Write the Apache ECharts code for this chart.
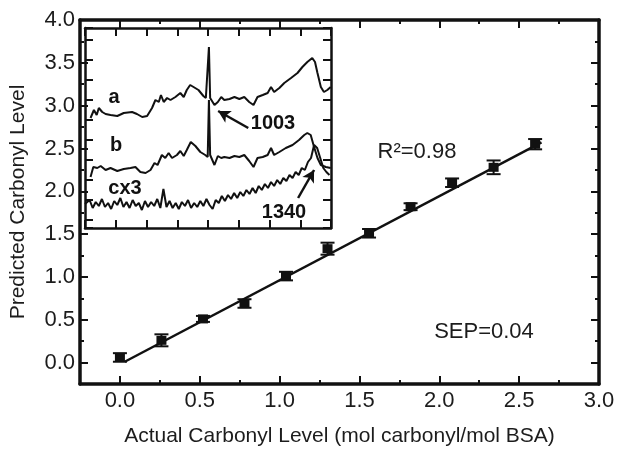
<!DOCTYPE html>
<html><head><meta charset="utf-8">
<script src="https://cdn.jsdelivr.net/npm/echarts@6/dist/echarts.min.js"></script>
<style>html,body{margin:0;padding:0;background:#fff}#c{width:626px;height:461px}</style>
</head><body><div id="c"></div>
<script>
// ---- main calibration data ----
const xActual = [0, 0.26, 0.52, 0.78, 1.04, 1.30, 1.56, 1.82, 2.08, 2.34, 2.60];
const yPred   = [0.06, 0.26, 0.51, 0.69, 1.01, 1.33, 1.51, 1.82, 2.10, 2.28, 2.55];
const yErr    = [0.05, 0.07, 0.035, 0.05, 0.05, 0.07, 0.05, 0.04, 0.05, 0.08, 0.06];
const fitX = [0.03, 2.64];
const fitY = [0.01, 2.57];
const xTicks = ['0.0','0.5','1.0','1.5','2.0','2.5','3.0'];
const yTicks = ['0.0','0.5','1.0','1.5','2.0','2.5','3.0','3.5','4.0'];

// ---- inset spectra (wavenumber cm-1, arbitrary intensity) ----
const aX = [618,629,638,645,656,667,683,705,726,753,769,786,802,818,829,840,847,856,867,878,894,910,921,931,942,953,969,985,993,999,1003,1007,1021,1032,1043,1053,1070,1086,1102,1118,1134,1148,1161,1178,1194,1205,1215,1232,1248,1270,1291,1307,1323,1339,1348,1356,1367,1377,1388,1399];
const aY = [102,110,105,112,108,106,105,104,107,108,106,103,104,112,120,118,125,118,122,120,123,127,123,130,135,133,130,124,122,120,173,122,115,118,123,120,121,123,121,123,118,115,123,125,127,133,128,132,137,142,147,153,158,162,158,147,133,128,130,133];
const bX = [618,627,640,651,667,683,705,726,748,764,780,797,813,826,836,850,861,872,883,899,910,921,931,944,959,975,991,999,1003,1007,1021,1032,1043,1053,1070,1086,1102,1118,1134,1148,1161,1178,1194,1205,1215,1232,1253,1275,1296,1313,1323,1334,1345,1356,1367,1383,1399];
const bY = [43,53,52,54,50,52,49,51,52,53,48,47,50,57,55,65,62,67,62,65,69,64,70,78,74,68,65,63,120,65,55,64,62,63,62,64,63,65,59,53,62,63,65,72,65,68,72,75,80,85,87,85,73,62,55,53,52];
const cX = [600,605,615,625,635,645,655,665,675,685,695,705,715,725,735,745,755,765,775,785,795,805,815,825,835,845,855,865,875,885,895,905,915,925,935,945,955,965,975,985,995,1005,1015,1025,1035,1045,1055,1065,1075,1085,1095,1105,1115,1125,1135,1145,1155,1165,1175,1185,1195,1205,1215,1225,1235,1245,1255,1265,1275,1285,1295,1305,1315,1325,1335,1345,1355,1365,1375,1385,1395];
const cY = [16,15,20,12,18,14,21,13,17,11,19,15,22,13,18,12,20,14,17,10,19,13,18,14,21,12,31,13,19,12,17,11,18,14,20,12,17,13,19,14,21,15,11,20,17,24,19,25,21,27,22,28,24,30,26,32,27,34,30,36,32,38,34,40,36,42,39,45,42,48,45,52,50,58,62,75,72,62,52,48,45,40];

const inkColor = '#111';
const txtColor = '#1c1c1c';
const FONT = 'Liberation Sans, Arial, sans-serif';

const chart = echarts.init(document.getElementById('c'), null, {renderer:'canvas'});

// grid geometry
const G = {left:80, top:20, right:27, bottom:77};
const W = 626 - G.left - G.right, H = 461 - G.top - G.bottom;
const pxX = W / 3.25, pxY = H / 4.25;
const G1 = {left: G.left + 0.25*pxX, top: G.top, right: G.right, bottom: G.bottom + 0.25*pxY};

const minorAxis = (pos, isX, extra) => Object.assign({
  type:'value', position:pos, min:-0.25, max: isX?3:4, interval:0.25,
  axisLine:{show:true, onZero:false, lineStyle:{color:inkColor, width:3.5}},
  axisTick:{show:true, inside:true, length:4, lineStyle:{color:inkColor, width:2}},
  axisLabel:{show:false}, splitLine:{show:false}
}, extra||{});
const majorAxis = (pos, isX, extra) => Object.assign({
  type:'value', position:pos, min:0, max: isX?3:4, interval:0.5,
  axisLine:{show:false, onZero:false},
  axisTick:{show:true, inside:true, length:8, lineStyle:{color:inkColor, width:2}},
  axisLabel:{show:false}, splitLine:{show:false}
}, extra||{});
const insetAxis = (pos, isX) => Object.assign({
  type:'value', position:pos,
  axisLine:{show:true, onZero:false, lineStyle:{color:inkColor, width:2.5}},
  axisTick:{show:true, inside:true, length:8, lineStyle:{color:inkColor, width:2}},
  axisLabel:{show:false}, splitLine:{show:false}
}, isX ? {min:600, max:1400, interval:100} : {min:-8, max:192, splitNumber:10});

const labelStyle = {show:true, color:txtColor, fontSize:22, fontFamily:FONT};

const option = {
  animation:false,
  backgroundColor:'#fff',
  grid:[
    {left:G.left, top:G.top, right:G.right, bottom:G.bottom},
    {left:G1.left, top:G1.top, right:G1.right, bottom:G1.bottom},
    {left:85, top:28, width:246, height:200}
  ],
  xAxis:[
    minorAxis('bottom', true, {gridIndex:0, name:'Actual Carbonyl Level (mol carbonyl/mol BSA)', nameLocation:'middle', nameGap:42,
      nameTextStyle:{color:txtColor, fontSize:21, fontFamily:FONT}}),
    minorAxis('top', true, {gridIndex:0}),
    majorAxis('bottom', true, {gridIndex:1, offset:0.25*pxY,
      axisLabel:Object.assign({}, labelStyle, {margin:6, formatter:(v)=>xTicks[Math.round(v*2)]})}),
    majorAxis('top', true, {gridIndex:1}),
    Object.assign(insetAxis('bottom', true), {gridIndex:2}),
    Object.assign(insetAxis('top', true), {gridIndex:2})
  ],
  yAxis:[
    minorAxis('left', false, {gridIndex:0, name:'Predicted Carbonyl Level', nameLocation:'middle', nameGap:51, nameRotate:90,
      nameTextStyle:{color:txtColor, fontSize:21, fontFamily:FONT}}),
    minorAxis('right', false, {gridIndex:0}),
    majorAxis('left', false, {gridIndex:1, offset:0.25*pxX,
      axisLabel:Object.assign({}, labelStyle, {margin:5, formatter:(v)=>yTicks[Math.round(v*2)]})}),
    majorAxis('right', false, {gridIndex:1}),
    Object.assign(insetAxis('left', false), {gridIndex:2}),
    Object.assign(insetAxis('right', false), {gridIndex:2})
  ],
  series:[
    {type:'line', xAxisIndex:0, yAxisIndex:0, data: fitX.map((x,i)=>[x, fitY[i]]),
      showSymbol:false, lineStyle:{color:inkColor, width:2.5}, z:3},
    {type:'custom', xAxisIndex:0, yAxisIndex:0, z:4,
      data: xActual.map((x,i)=>[x, yPred[i]-yErr[i], yPred[i]+yErr[i]]),
      renderItem:(params, api)=>{
        const x = api.value(0);
        const p1 = api.coord([x, api.value(2)]), p2 = api.coord([x, api.value(1)]);
        const hw = 7, st = {stroke:inkColor, lineWidth:2};
        return {type:'group', children:[
          {type:'line', shape:{x1:p1[0], y1:p1[1], x2:p2[0], y2:p2[1]}, style:st},
          {type:'line', shape:{x1:p1[0]-hw, y1:p1[1], x2:p1[0]+hw, y2:p1[1]}, style:st},
          {type:'line', shape:{x1:p2[0]-hw, y1:p2[1], x2:p2[0]+hw, y2:p2[1]}, style:st}
        ]};
      }},
    {type:'scatter', xAxisIndex:0, yAxisIndex:0, z:5, symbol:'rect', symbolSize:[10,9],
      itemStyle:{color:inkColor, opacity:1}, data: xActual.map((x,i)=>[x, yPred[i]])},
    {type:'line', xAxisIndex:4, yAxisIndex:4, data: aX.map((x,i)=>[x, aY[i]]), showSymbol:false,
      lineStyle:{color:inkColor, width:2},
      markLine:{silent:true, symbol:['none','arrow'], symbolSize:[10,12], label:{show:false},
        lineStyle:{color:inkColor, width:2.5, type:'solid'},
        data:[[{coord:[1131,92]},{coord:[1033,109]}]]}},
    {type:'line', xAxisIndex:4, yAxisIndex:4, data: bX.map((x,i)=>[x, bY[i]]), showSymbol:false,
      lineStyle:{color:inkColor, width:2}},
    {type:'line', xAxisIndex:4, yAxisIndex:4, data: cX.map((x,i)=>[x, cY[i]]), showSymbol:false,
      lineStyle:{color:inkColor, width:2},
      markLine:{silent:true, symbol:['none','arrow'], symbolSize:[10,12], label:{show:false},
        lineStyle:{color:inkColor, width:2.5, type:'solid'},
        data:[[{coord:[1293,22]},{coord:[1345,50]}]]}}
  ],
  graphic:[
    {type:'text', x:114, y:97, style:{text:'a', align:'center', verticalAlign:'middle', font:'bold 20px '+FONT, fill:inkColor}},
    {type:'text', x:116, y:145, style:{text:'b', align:'center', verticalAlign:'middle', font:'bold 20px '+FONT, fill:inkColor}},
    {type:'text', x:125, y:188, style:{text:'cx3', align:'center', verticalAlign:'middle', font:'bold 20px '+FONT, fill:inkColor}},
    {type:'text', x:273, y:123, style:{text:'1003', align:'center', verticalAlign:'middle', font:'bold 20px '+FONT, fill:inkColor}},
    {type:'text', x:284, y:212, style:{text:'1340', align:'center', verticalAlign:'middle', font:'bold 20px '+FONT, fill:inkColor}},
    {type:'text', x:417, y:152, style:{text:'R²=0.98', align:'center', verticalAlign:'middle', font:'22px '+FONT, fill:txtColor}},
    {type:'text', x:484, y:332, style:{text:'SEP=0.04', align:'center', verticalAlign:'middle', font:'22px '+FONT, fill:txtColor}}
  ]
};
chart.setOption(option);
</script>
</body></html>
